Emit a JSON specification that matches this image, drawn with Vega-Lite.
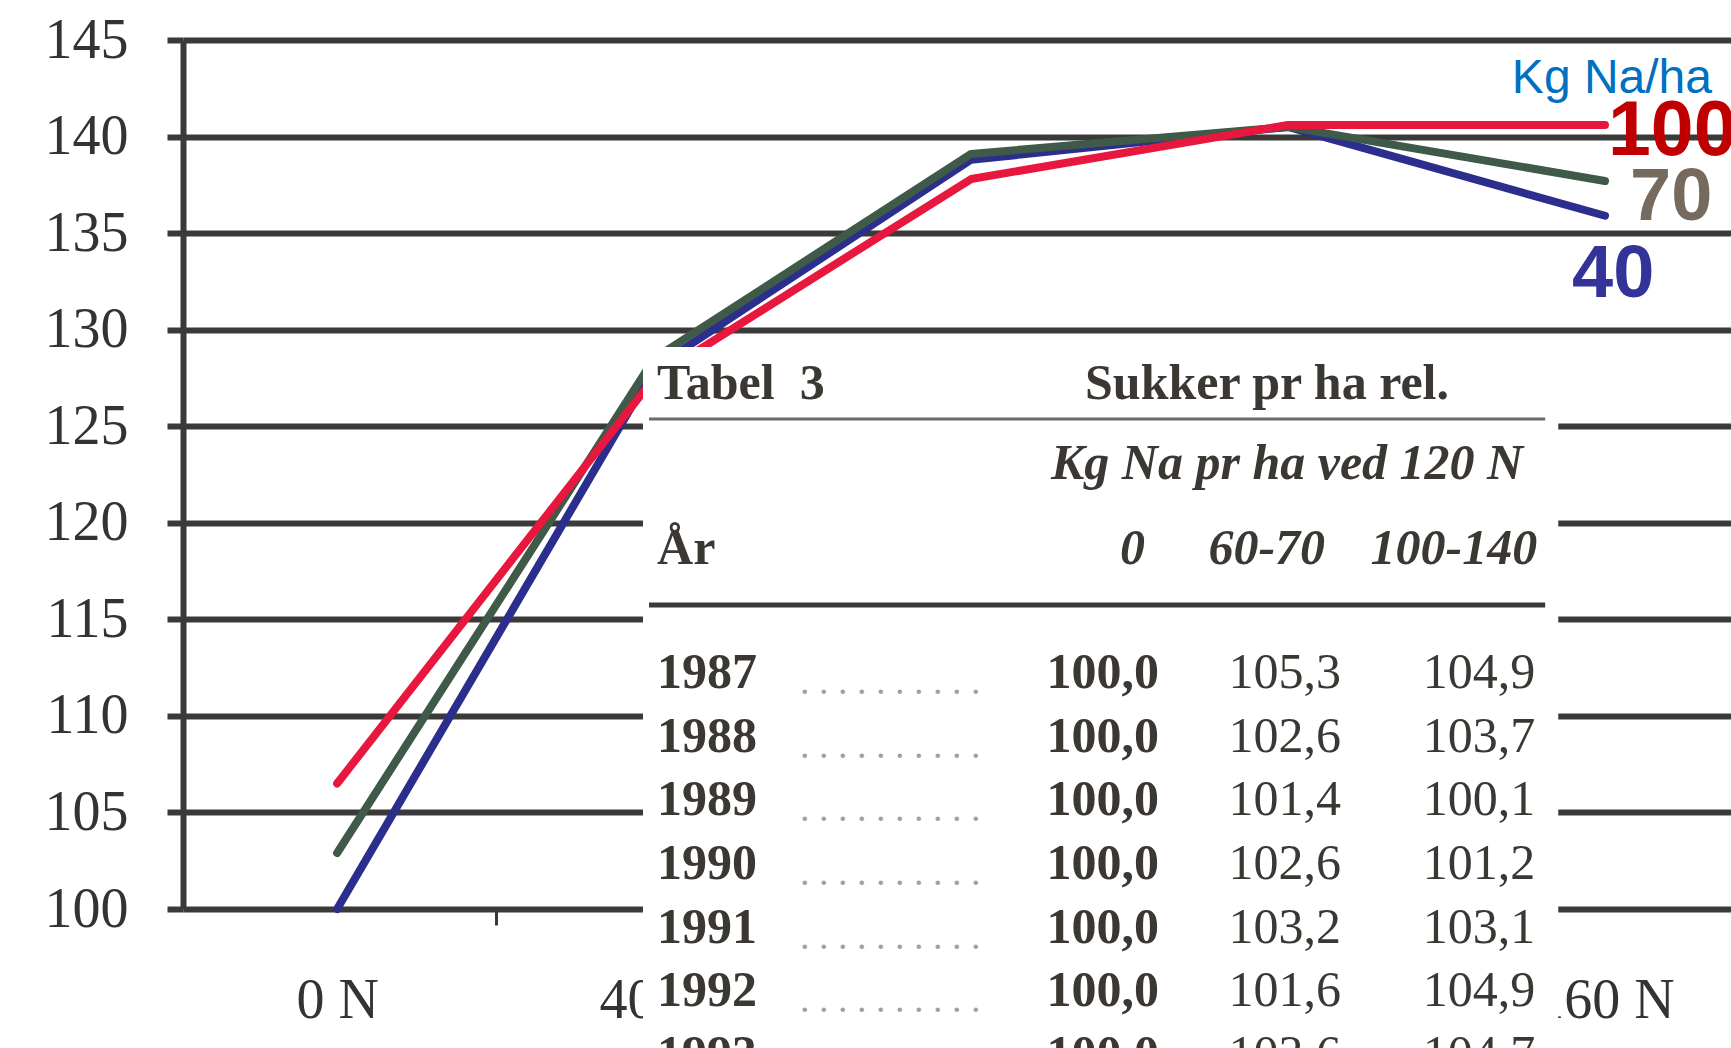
{
  "$schema": "https://vega.github.io/schema/vega-lite/v6.json",
  "width": 1548,
  "height": 869,
  "autosize": {"type": "none"},
  "padding": {"left": 183, "top": 40, "right": 0, "bottom": 139},
  "background": "white",
  "config": {"view": {"stroke": null}, "font": "Liberation Serif"},
  "datasets": {
    "lines": [
      {"series": "40", "N": 0, "value": 100.0},
      {"series": "40", "N": 40, "value": 128.0},
      {"series": "40", "N": 80, "value": 138.8},
      {"series": "40", "N": 120, "value": 140.5},
      {"series": "40", "N": 160, "value": 135.9},
      {"series": "70", "N": 0, "value": 102.9},
      {"series": "70", "N": 40, "value": 128.5},
      {"series": "70", "N": 80, "value": 139.1},
      {"series": "70", "N": 120, "value": 140.5},
      {"series": "70", "N": 160, "value": 137.7},
      {"series": "100", "N": 0, "value": 106.5},
      {"series": "100", "N": 40, "value": 127.5},
      {"series": "100", "N": 80, "value": 137.8},
      {"series": "100", "N": 120, "value": 140.6},
      {"series": "100", "N": 160, "value": 140.6}
    ],
    "table": [
      {"Year": 1987, "v0": "100,0", "v1": "105,3", "v2": "104,9"},
      {"Year": 1988, "v0": "100,0", "v1": "102,6", "v2": "103,7"},
      {"Year": 1989, "v0": "100,0", "v1": "101,4", "v2": "100,1"},
      {"Year": 1990, "v0": "100,0", "v1": "102,6", "v2": "101,2"},
      {"Year": 1991, "v0": "100,0", "v1": "103,2", "v2": "103,1"},
      {"Year": 1992, "v0": "100,0", "v1": "101,6", "v2": "104,9"},
      {"Year": 1993, "v0": "100,0", "v1": "103,6", "v2": "104,7"}
    ]
  },
  "layer": [
    {
      "data": {"values": [{}]},
      "layer": [
        {
          "data": {"name": "lines"},
          "mark": {"type": "line", "strokeWidth": 8, "strokeCap": "round", "strokeJoin": "round"},
          "encoding": {
            "x": {"field": "N", "type": "quantitative", "title": null,
              "scale": {"domain": [-19.45, 175.9], "nice": false, "zero": false},
              "axis": {"values": [0, 40, 80, 120, 160], "labelExpr": "datum.value + ' N'", "grid": false, "domain": false,
                "ticks": true, "tickSize": 16, "tickWidth": 3, "tickColor": "#3a3a3a", "tickOffset": 158.5, "labelOffset": -158.5,
                "labelFont": "Liberation Serif", "labelFontSize": 56, "labelColor": "#333333", "labelPadding": 48,
                "labelFlush": false, "labelOverlap": false, "labelBound": false, "title": null}},
            "y": {"field": "value", "type": "quantitative", "title": null,
              "scale": {"domain": [100, 145], "nice": false, "zero": false},
              "axis": {"values": [100, 105, 110, 115, 120, 125, 130, 135, 140, 145], "grid": true, "gridColor": "#3a3a3a", "gridWidth": 6,
                "domain": true, "domainColor": "#3a3a3a", "domainWidth": 6, "ticks": true, "tickSize": 16, "tickWidth": 6, "tickColor": "#3a3a3a",
                "labelFont": "Liberation Serif", "labelFontSize": 56, "labelColor": "#333333", "labelPadding": 39, "title": null}},
            "color": {"field": "series", "type": "nominal", "legend": null,
              "scale": {"domain": ["40", "70", "100"], "range": ["#2b2e8c", "#3f5a48", "#e8173e"]}}
          }
        },
        {
          "mark": {"type": "rect", "color": "white"},
          "encoding": {
            "x": {"datum": 38.6, "type": "quantitative", "title": null, "scale": {"domain": [-19.45, 175.9], "nice": false, "zero": false}},
            "x2": {"datum": 154.1},
            "y": {"datum": 129.1, "type": "quantitative", "title": null, "scale": {"domain": [100, 145], "nice": false, "zero": false}},
            "y2": {"datum": 90}
          }
        },
        {
          "mark": {"type": "rule", "color": "#6a6a6a", "strokeWidth": 3},
          "encoding": {
            "x": {"datum": 39.36, "type": "quantitative", "title": null, "scale": {"domain": [-19.45, 175.9], "nice": false, "zero": false}},
            "x2": {"datum": 152.45},
            "y": {"datum": 125.37, "type": "quantitative", "title": null, "scale": {"domain": [100, 145], "nice": false, "zero": false}}
          }
        },
        {
          "mark": {"type": "rule", "color": "#3a3a3a", "strokeWidth": 5},
          "encoding": {
            "x": {"datum": 39.36, "type": "quantitative", "title": null, "scale": {"domain": [-19.45, 175.9], "nice": false, "zero": false}},
            "x2": {"datum": 152.45},
            "y": {"datum": 115.74, "type": "quantitative", "title": null, "scale": {"domain": [100, 145], "nice": false, "zero": false}}
          }
        },
        {
          "mark": {"type": "text", "text": "Tabel\u00a0 3", "align": "left", "baseline": "middle", "font": "Liberation Serif", "fontWeight": "bold", "fontSize": 50, "color": "#3b3834"},
          "encoding": {
            "x": {"datum": 40.37, "type": "quantitative", "title": null, "scale": {"domain": [-19.45, 175.9], "nice": false, "zero": false}},
            "y": {"datum": 127.19, "type": "quantitative", "title": null, "scale": {"domain": [100, 145], "nice": false, "zero": false}}
          }
        },
        {
          "mark": {"type": "text", "text": "Sukker pr ha rel.", "align": "left", "baseline": "middle", "font": "Liberation Serif", "fontWeight": "bold", "fontSize": 50, "color": "#3b3834"},
          "encoding": {
            "x": {"datum": 94.38, "type": "quantitative", "title": null, "scale": {"domain": [-19.45, 175.9], "nice": false, "zero": false}},
            "y": {"datum": 127.19, "type": "quantitative", "title": null, "scale": {"domain": [100, 145], "nice": false, "zero": false}}
          }
        },
        {
          "mark": {"type": "text", "text": "Kg Na pr ha ved 120 N", "align": "right", "baseline": "middle", "font": "Liberation Serif", "fontWeight": "bold", "fontStyle": "italic", "fontSize": 50, "color": "#3b3834"},
          "encoding": {
            "x": {"datum": 149.68, "type": "quantitative", "title": null, "scale": {"domain": [-19.45, 175.9], "nice": false, "zero": false}},
            "y": {"datum": 123.04, "type": "quantitative", "title": null, "scale": {"domain": [100, 145], "nice": false, "zero": false}}
          }
        },
        {
          "mark": {"type": "text", "text": "År", "align": "left", "baseline": "middle", "font": "Liberation Serif", "fontWeight": "bold", "fontSize": 50, "color": "#3b3834"},
          "encoding": {
            "x": {"datum": 40.37, "type": "quantitative", "title": null, "scale": {"domain": [-19.45, 175.9], "nice": false, "zero": false}},
            "y": {"datum": 118.64, "type": "quantitative", "title": null, "scale": {"domain": [100, 145], "nice": false, "zero": false}}
          }
        },
        {
          "mark": {"type": "text", "text": "0", "align": "right", "baseline": "middle", "font": "Liberation Serif", "fontWeight": "bold", "fontStyle": "italic", "fontSize": 50, "color": "#3b3834"},
          "encoding": {
            "x": {"datum": 101.95, "type": "quantitative", "title": null, "scale": {"domain": [-19.45, 175.9], "nice": false, "zero": false}},
            "y": {"datum": 118.64, "type": "quantitative", "title": null, "scale": {"domain": [100, 145], "nice": false, "zero": false}}
          }
        },
        {
          "mark": {"type": "text", "text": "60-70", "align": "right", "baseline": "middle", "font": "Liberation Serif", "fontWeight": "bold", "fontStyle": "italic", "fontSize": 50, "color": "#3b3834"},
          "encoding": {
            "x": {"datum": 124.67, "type": "quantitative", "title": null, "scale": {"domain": [-19.45, 175.9], "nice": false, "zero": false}},
            "y": {"datum": 118.64, "type": "quantitative", "title": null, "scale": {"domain": [100, 145], "nice": false, "zero": false}}
          }
        },
        {
          "mark": {"type": "text", "text": "100-140", "align": "right", "baseline": "middle", "font": "Liberation Serif", "fontWeight": "bold", "fontStyle": "italic", "fontSize": 50, "color": "#3b3834"},
          "encoding": {
            "x": {"datum": 151.45, "type": "quantitative", "title": null, "scale": {"domain": [-19.45, 175.9], "nice": false, "zero": false}},
            "y": {"datum": 118.64, "type": "quantitative", "title": null, "scale": {"domain": [100, 145], "nice": false, "zero": false}}
          }
        },
        {
          "data": {"name": "lines"},
          "transform": [{"filter": "datum.N == 160 && datum.series == '100'"}],
          "mark": {"type": "text", "text": "Kg Na/ha", "align": "right", "baseline": "alphabetic", "dx": 107, "dy": -32, "font": "Liberation Sans", "fontSize": 48, "color": "#0070c0"},
          "encoding": {
            "x": {"field": "N", "type": "quantitative", "title": null, "scale": {"domain": [-19.45, 175.9], "nice": false, "zero": false}},
            "y": {"field": "value", "type": "quantitative", "title": null, "scale": {"domain": [100, 145], "nice": false, "zero": false}}
          }
        },
        {
          "data": {"name": "lines"},
          "transform": [{"filter": "datum.N == 160 && datum.series == '100'"}],
          "mark": {"type": "text", "align": "left", "baseline": "middle", "dx": 3, "dy": 7, "font": "Liberation Sans", "fontWeight": "bold", "fontSize": 77, "color": "#c00000"},
          "encoding": {
            "text": {"field": "series", "type": "nominal"},
            "x": {"field": "N", "type": "quantitative", "title": null, "scale": {"domain": [-19.45, 175.9], "nice": false, "zero": false}},
            "y": {"field": "value", "type": "quantitative", "title": null, "scale": {"domain": [100, 145], "nice": false, "zero": false}}
          }
        },
        {
          "data": {"name": "lines"},
          "transform": [{"filter": "datum.N == 160 && datum.series == '70'"}],
          "mark": {"type": "text", "align": "left", "baseline": "middle", "dx": 25, "dy": 17, "font": "Liberation Sans", "fontWeight": "bold", "fontSize": 74, "color": "#766a5f"},
          "encoding": {
            "text": {"field": "series", "type": "nominal"},
            "x": {"field": "N", "type": "quantitative", "title": null, "scale": {"domain": [-19.45, 175.9], "nice": false, "zero": false}},
            "y": {"field": "value", "type": "quantitative", "title": null, "scale": {"domain": [100, 145], "nice": false, "zero": false}}
          }
        },
        {
          "data": {"name": "lines"},
          "transform": [{"filter": "datum.N == 160 && datum.series == '40'"}],
          "mark": {"type": "text", "align": "left", "baseline": "middle", "dx": -33, "dy": 59, "font": "Liberation Sans", "fontWeight": "bold", "fontSize": 74, "color": "#333399"},
          "encoding": {
            "text": {"field": "series", "type": "nominal"},
            "x": {"field": "N", "type": "quantitative", "title": null, "scale": {"domain": [-19.45, 175.9], "nice": false, "zero": false}},
            "y": {"field": "value", "type": "quantitative", "title": null, "scale": {"domain": [100, 145], "nice": false, "zero": false}}
          }
        }
      ]
    },
    {
      "data": {"name": "table"},
      "layer": [
        {
          "mark": {"type": "text", "align": "left", "baseline": "middle", "font": "Liberation Serif", "fontWeight": "bold", "fontSize": 50, "color": "#3b3834"},
          "encoding": {
            "text": {"field": "Year", "type": "nominal"},
            "x": {"datum": 40.37, "type": "quantitative", "title": null, "scale": {"domain": [-19.45, 175.9], "nice": false, "zero": false}},
            "y": {"field": "Year", "type": "quantitative", "title": null, "axis": null, "scale": {"domain": [1987, 1993], "range": [633, 1015], "nice": false, "zero": false}}
          }
        },
        {
          "mark": {"type": "text", "text": ". . . . . . . . . .", "align": "left", "baseline": "middle", "dy": 10, "font": "Liberation Serif", "fontSize": 38, "color": "#a0a0a0"},
          "encoding": {
            "x": {"datum": 58.41, "type": "quantitative", "title": null, "scale": {"domain": [-19.45, 175.9], "nice": false, "zero": false}},
            "y": {"field": "Year", "type": "quantitative", "title": null, "axis": null, "scale": {"domain": [1987, 1993], "range": [633, 1015], "nice": false, "zero": false}}
          }
        },
        {
          "mark": {"type": "text", "align": "right", "baseline": "middle", "font": "Liberation Serif", "fontWeight": "bold", "fontSize": 50, "color": "#3b3834"},
          "encoding": {
            "text": {"field": "v0", "type": "nominal"},
            "x": {"datum": 103.72, "type": "quantitative", "title": null, "scale": {"domain": [-19.45, 175.9], "nice": false, "zero": false}},
            "y": {"field": "Year", "type": "quantitative", "title": null, "axis": null, "scale": {"domain": [1987, 1993], "range": [633, 1015], "nice": false, "zero": false}}
          }
        },
        {
          "mark": {"type": "text", "align": "right", "baseline": "middle", "font": "Liberation Serif", "fontSize": 50, "color": "#3b3834"},
          "encoding": {
            "text": {"field": "v1", "type": "nominal"},
            "x": {"datum": 126.69, "type": "quantitative", "title": null, "scale": {"domain": [-19.45, 175.9], "nice": false, "zero": false}},
            "y": {"field": "Year", "type": "quantitative", "title": null, "axis": null, "scale": {"domain": [1987, 1993], "range": [633, 1015], "nice": false, "zero": false}}
          }
        },
        {
          "mark": {"type": "text", "align": "right", "baseline": "middle", "font": "Liberation Serif", "fontSize": 50, "color": "#3b3834"},
          "encoding": {
            "text": {"field": "v2", "type": "nominal"},
            "x": {"datum": 151.19, "type": "quantitative", "title": null, "scale": {"domain": [-19.45, 175.9], "nice": false, "zero": false}},
            "y": {"field": "Year", "type": "quantitative", "title": null, "axis": null, "scale": {"domain": [1987, 1993], "range": [633, 1015], "nice": false, "zero": false}}
          }
        }
      ]
    }
  ],
  "resolve": {"scale": {"y": "independent"}}
}
